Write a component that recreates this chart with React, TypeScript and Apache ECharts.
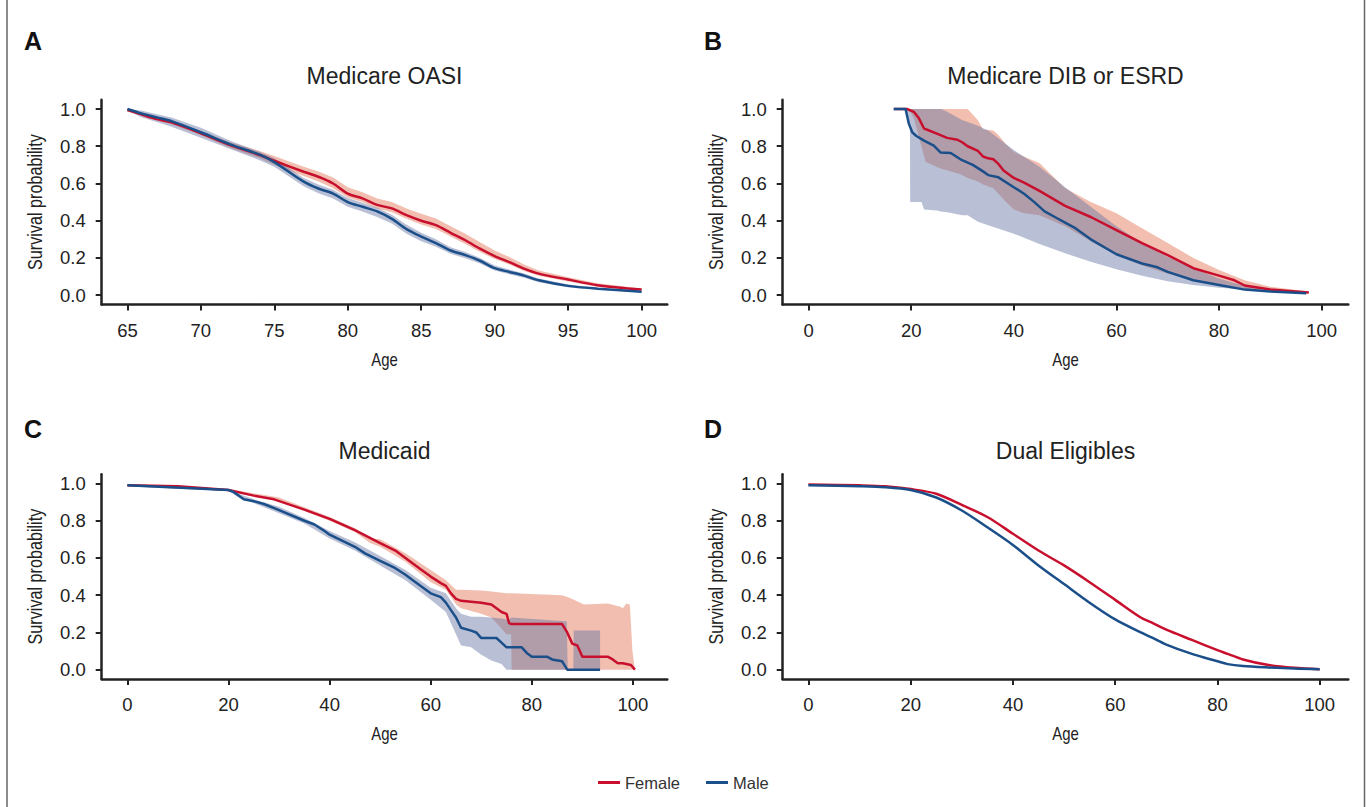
import React, { useEffect, useRef } from 'react';
import * as echarts from 'echarts';

// ---------- colours & fonts ----------
const RED = '#c8102e';
const BLUE = '#1b4f8a';
const RED_FILL = 'rgba(224,110,80,0.45)';
const BLUE_FILL = 'rgba(100,115,165,0.45)';
const SANS = "'Liberation Sans', Arial, Helvetica, sans-serif";
const INK = '#222';

// ---------- tick labels ----------
const yTicks = [0, 0.2, 0.4, 0.6, 0.8, 1.0];
const xTicksA = [65, 70, 75, 80, 85, 90, 95, 100];
const xTicksAll = [0, 20, 40, 60, 80, 100];

// ---------- Panel A: Medicare OASI ----------
const ageA = [65, 66, 67, 68, 70, 72, 74, 75, 77, 78, 79, 80, 81, 82, 83, 84, 85, 86, 87, 88, 89, 90, 91, 92, 93, 95, 97, 100];
const femaleA = [0.995, 0.97, 0.946, 0.928, 0.87, 0.806, 0.753, 0.722, 0.663, 0.636, 0.6, 0.546, 0.52, 0.485, 0.466, 0.43, 0.4, 0.376, 0.335, 0.295, 0.25, 0.21, 0.178, 0.143, 0.116, 0.084, 0.054, 0.03];
const femaleALo = [0.99, 0.962, 0.938, 0.918, 0.86, 0.79, 0.735, 0.7, 0.64, 0.61, 0.575, 0.525, 0.5, 0.465, 0.445, 0.41, 0.38, 0.355, 0.315, 0.275, 0.232, 0.195, 0.165, 0.13, 0.105, 0.074, 0.046, 0.024];
const femaleAHi = [1.0, 0.978, 0.955, 0.938, 0.88, 0.822, 0.775, 0.748, 0.69, 0.664, 0.632, 0.58, 0.553, 0.52, 0.5, 0.466, 0.438, 0.412, 0.37, 0.33, 0.285, 0.24, 0.205, 0.165, 0.133, 0.097, 0.064, 0.036];
const maleA = [1.0, 0.975, 0.955, 0.935, 0.875, 0.81, 0.755, 0.715, 0.61, 0.573, 0.546, 0.5, 0.475, 0.45, 0.41, 0.355, 0.315, 0.28, 0.24, 0.215, 0.185, 0.145, 0.125, 0.105, 0.08, 0.05, 0.035, 0.018];
const maleALo = [0.99, 0.955, 0.93, 0.905, 0.845, 0.785, 0.725, 0.69, 0.585, 0.548, 0.52, 0.475, 0.45, 0.42, 0.385, 0.33, 0.29, 0.26, 0.222, 0.198, 0.17, 0.132, 0.113, 0.094, 0.07, 0.043, 0.03, 0.014];
const maleAHi = [1.0, 0.99, 0.972, 0.955, 0.9, 0.83, 0.77, 0.735, 0.63, 0.595, 0.567, 0.522, 0.497, 0.47, 0.432, 0.378, 0.336, 0.3, 0.258, 0.232, 0.2, 0.16, 0.138, 0.117, 0.09, 0.058, 0.04, 0.022];

// ---------- Panel B: Medicare DIB or ESRD ----------
const ageBF = [16.6, 19.2, 20.5, 21.5, 22.5, 23, 25, 27, 29, 30, 31, 33, 34, 35, 36, 37, 38, 40, 42, 45, 50, 55, 60, 65, 70, 75, 80, 83, 85, 90, 97.5];
const femaleB = [1.0, 1.0, 0.985, 0.95, 0.895, 0.89, 0.868, 0.845, 0.835, 0.82, 0.8, 0.775, 0.745, 0.735, 0.73, 0.705, 0.67, 0.63, 0.605, 0.56, 0.48, 0.42, 0.35, 0.28, 0.215, 0.145, 0.105, 0.08, 0.052, 0.03, 0.015];
const ageBFBand = [19.5, 20.5, 21.5, 22.8, 25.7, 29.6, 31, 33, 34, 36, 37, 38.5, 40, 42, 45, 50, 55, 60, 65, 70, 75, 80, 85, 90, 97.5];
const femaleBLo = [1.0, 0.95, 0.85, 0.715, 0.68, 0.65, 0.63, 0.61, 0.595, 0.575, 0.545, 0.5, 0.46, 0.44, 0.43, 0.37, 0.29, 0.215, 0.16, 0.115, 0.08, 0.06, 0.035, 0.025, 0.01];
const femaleBHi = [1.0, 1.0, 1.0, 1.0, 1.0, 1.0, 1.0, 0.94, 0.89, 0.885, 0.86, 0.81, 0.77, 0.744, 0.71, 0.575, 0.5, 0.44, 0.36, 0.28, 0.2, 0.135, 0.08, 0.045, 0.02];
const ageBM = [16.6, 18.9, 19.55, 20.2, 21, 22.5, 24.4, 25.7, 27.7, 29.6, 32, 34, 35, 37, 40, 42, 44, 46, 48, 50, 52, 55, 60, 65, 68, 70, 75, 80, 85, 90, 97];
const maleB = [1.0, 1.0, 0.92, 0.875, 0.855, 0.83, 0.803, 0.767, 0.764, 0.73, 0.7, 0.665, 0.645, 0.633, 0.58, 0.545, 0.5, 0.45, 0.42, 0.39, 0.36, 0.3, 0.22, 0.17, 0.15, 0.125, 0.08, 0.055, 0.03, 0.02, 0.01];
const ageBMBand = [19, 19.75, 19.8, 22, 22.5, 25, 25.8, 27, 30, 31, 33, 35, 40, 45, 50, 55, 60, 65, 70, 75, 80, 85, 90, 97];
const maleBLo = [1.0, 0.9, 0.5, 0.5, 0.46, 0.455, 0.45, 0.445, 0.43, 0.43, 0.395, 0.375, 0.33, 0.275, 0.225, 0.18, 0.14, 0.105, 0.075, 0.055, 0.04, 0.03, 0.02, 0.005];
const maleBHi = [1.0, 1.0, 1.0, 1.0, 1.0, 1.0, 1.0, 0.985, 0.94, 0.93, 0.91, 0.885, 0.78, 0.69, 0.58, 0.475, 0.37, 0.28, 0.205, 0.145, 0.09, 0.05, 0.03, 0.015];

// ---------- Panel C: Medicaid ----------
const ageCF = [0, 10, 20, 25, 29, 35, 40, 45, 50, 53, 55, 58, 60, 62, 63, 64, 65, 66, 70, 72, 73, 74, 75, 75.5, 76, 86, 87, 88, 89, 90, 95, 96, 97, 98, 99.6, 100.4];
const femaleC = [0.99, 0.985, 0.965, 0.935, 0.915, 0.86, 0.81, 0.75, 0.68, 0.64, 0.6, 0.54, 0.5, 0.465, 0.45, 0.41, 0.38, 0.37, 0.36, 0.35, 0.33, 0.31, 0.3, 0.25, 0.245, 0.245, 0.2, 0.14, 0.13, 0.07, 0.07, 0.055, 0.035, 0.035, 0.025, 0.0];
const ageCFBand = [0, 20, 30, 40, 45, 48, 50, 55, 60, 63, 64, 65, 66, 70, 72, 75, 75.9, 76, 86, 87, 88, 90.3, 95, 97.4, 98, 98.7, 99.4, 99.9, 100.4];
const femaleCLo = [0.985, 0.96, 0.905, 0.8, 0.74, 0.68, 0.66, 0.58, 0.47, 0.43, 0.39, 0.35, 0.33, 0.3, 0.28, 0.19, 0.19, 0, 0, 0, 0, 0, 0, 0, 0, 0, 0, 0, 0];
const femaleCHi = [0.995, 0.97, 0.925, 0.82, 0.76, 0.705, 0.7, 0.625, 0.535, 0.48, 0.455, 0.43, 0.43, 0.425, 0.42, 0.41, 0.41, 0.41, 0.4, 0.39, 0.38, 0.35, 0.355, 0.34, 0.33, 0.355, 0.35, 0.1, 0.0];
const ageCM = [0, 20, 21, 22, 23, 25, 27, 30, 35, 37, 39, 40, 45, 47, 50, 53, 55, 57, 60, 62, 63, 64, 65, 66, 68, 69, 70, 73, 74, 75, 78, 79, 80, 83, 84, 86, 87, 93.5];
const maleC = [0.99, 0.965, 0.955, 0.935, 0.915, 0.905, 0.89, 0.857, 0.8, 0.78, 0.745, 0.725, 0.66, 0.625, 0.585, 0.545, 0.51, 0.47, 0.41, 0.39, 0.36, 0.32, 0.28, 0.225, 0.21, 0.2, 0.17, 0.17, 0.145, 0.12, 0.12, 0.09, 0.07, 0.07, 0.055, 0.045, 0.0, 0.0];
const ageCMBand = [0, 20, 22, 25, 30, 35, 40, 45, 50, 55, 60, 63, 64, 65, 66, 68, 70, 72, 74, 75, 75.5, 76, 86.5, 86.9, 87.1, 88.2, 88.3, 93.5];
const maleCLo = [0.985, 0.96, 0.925, 0.895, 0.84, 0.785, 0.705, 0.64, 0.56, 0.48, 0.375, 0.31, 0.25, 0.19, 0.13, 0.12, 0.08, 0.05, 0.03, 0.0, 0.0, 0.0, 0, 0, 0, 0, 0, 0];
const maleCHi = [0.995, 0.97, 0.945, 0.915, 0.875, 0.815, 0.745, 0.685, 0.61, 0.535, 0.44, 0.41, 0.37, 0.33, 0.3, 0.285, 0.285, 0.28, 0.275, 0.27, 0.27, 0.28, 0.26, 0.26, 0.0, 0.0, 0.21, 0.21];

// ---------- Panel D: Dual Eligibles ----------
const ageD = [0, 10, 15, 20, 25, 30, 35, 40, 45, 50, 55, 60, 65, 67, 70, 75, 80, 82, 85, 90, 95, 100];
const femaleD = [0.995, 0.99, 0.985, 0.97, 0.945, 0.885, 0.82, 0.73, 0.64, 0.56, 0.47, 0.375, 0.28, 0.255, 0.215, 0.16, 0.105, 0.085, 0.055, 0.025, 0.01, 0.003];
const maleD = [0.99, 0.985, 0.98, 0.965, 0.925, 0.855, 0.765, 0.67, 0.56, 0.46, 0.36, 0.27, 0.2, 0.175, 0.135, 0.085, 0.045, 0.03, 0.02, 0.012, 0.006, 0.003];

// ---------- panel texts ----------
const titles = ['Medicare OASI', 'Medicare DIB or ESRD', 'Medicaid', 'Dual Eligibles'];
const letters = ['A', 'B', 'C', 'D'];
const xName = 'Age';
const yName = 'Survival probability';

// ---------- layout ----------
const GL = [101.7, 782.7, 101.7, 782.7];
const GT = [99.7, 99.7, 474.2, 474.2];
const GW = 565.6;
const GH = 204.8;
const XR: [number, number][] = [[63.25, 101.75], [-5.05, 105.2], [-5.09, 106.8], [-5.03, 105.6]];
const XT = [xTicksA, xTicksAll, xTicksAll, xTicksAll];

function band(g: number, name: string, ages: number[], lo: number[], hi: number[], fill: string) {
  return {
    type: 'custom',
    name,
    xAxisIndex: g,
    yAxisIndex: g,
    z: 1,
    silent: true,
    clip: true,
    data: [[ages[0], lo[0]]],
    renderItem: (_p: any, api: any) => {
      const pts: number[][] = [];
      for (let i = 0; i < ages.length; i++) pts.push(api.coord([ages[i], lo[i]]));
      for (let i = ages.length - 1; i >= 0; i--) pts.push(api.coord([ages[i], hi[i]]));
      return { type: 'polygon', shape: { points: pts }, style: { fill, stroke: 'none' } };
    },
  };
}

function line(g: number, name: string, ages: number[], vals: number[], color: string, smooth: number | boolean) {
  return {
    type: 'line',
    name,
    xAxisIndex: g,
    yAxisIndex: g,
    data: ages.map((a, i) => [a, vals[i]]),
    showSymbol: false,
    symbol: 'none',
    smooth,
    clip: true,
    z: 3,
    lineStyle: { color, width: 2.5 },
    itemStyle: { color },
  };
}

function buildOption() {
  const grid = GL.map((l, i) => ({ left: l, top: GT[i], width: GW, height: GH, outerBoundsMode: 'none' }));
  const xAxis = XR.map((r, i) => ({
    type: 'value',
    gridIndex: i,
    min: r[0],
    max: r[1],
    axisLine: { show: true, onZero: false, lineStyle: { color: INK, width: 2.5 } },
    axisTick: { show: true, length: 6, customValues: XT[i], lineStyle: { color: INK, width: 2 } },
    axisLabel: { customValues: XT[i], fontSize: 18.5, color: INK, margin: 16, fontFamily: SANS },
    splitLine: { show: false },
  }));
  const yAxis = GL.map((_l, i) => ({
    type: 'value',
    gridIndex: i,
    min: -0.05,
    max: 1.05,
    axisLine: { show: true, onZero: false, lineStyle: { color: INK, width: 2.5 } },
    axisTick: { show: true, length: 6, customValues: yTicks, lineStyle: { color: INK, width: 2 } },
    axisLabel: {
      customValues: yTicks,
      formatter: (v: number) => v.toFixed(1),
      fontSize: 18.5,
      color: INK,
      margin: 16,
      fontFamily: SANS,
    },
    splitLine: { show: false },
  }));

  const series: any[] = [
    band(0, 'Female CI', ageA, femaleALo, femaleAHi, RED_FILL),
    band(0, 'Male CI', ageA, maleALo, maleAHi, BLUE_FILL),
    line(0, 'Female', ageA, femaleA, RED, 0.3),
    line(0, 'Male', ageA, maleA, BLUE, 0.3),

    band(1, 'Female CI', ageBFBand, femaleBLo, femaleBHi, RED_FILL),
    band(1, 'Male CI', ageBMBand, maleBLo, maleBHi, BLUE_FILL),
    line(1, 'Female', ageBF, femaleB, RED, false),
    line(1, 'Male', ageBM, maleB, BLUE, false),

    band(2, 'Female CI', ageCFBand, femaleCLo, femaleCHi, RED_FILL),
    band(2, 'Male CI', ageCMBand, maleCLo, maleCHi, BLUE_FILL),
    line(2, 'Female', ageCF, femaleC, RED, false),
    line(2, 'Male', ageCM, maleC, BLUE, false),

    line(3, 'Female', ageD, femaleD, RED, 0.3),
    line(3, 'Male', ageD, maleD, BLUE, 0.3),
  ];

  const graphic: any[] = [];
  titles.forEach((t, i) => {
    graphic.push({
      type: 'text',
      x: GL[i] + GW / 2,
      y: GT[i] - 23.4,
      silent: true,
      style: { text: t, font: `23px ${SANS}`, fill: INK, align: 'center', verticalAlign: 'middle' },
    });
    // condensed axis titles
    graphic.push({
      type: 'text',
      x: GL[i] + GW / 2,
      y: GT[i] + 260.3,
      scaleX: 0.83,
      silent: true,
      style: { text: xName, font: `18px ${SANS}`, fill: INK, align: 'center', verticalAlign: 'middle' },
    });
    graphic.push({
      type: 'text',
      x: GL[i] - 66.3,
      y: GT[i] + GH / 2,
      rotation: Math.PI / 2,
      scaleX: 0.83,
      silent: true,
      style: { text: yName, font: `19.5px ${SANS}`, fill: INK, align: 'center', verticalAlign: 'middle' },
    });
  });
  const letterY = [40.5, 40.5, 429, 429];
  const letterX = [24, 704, 24, 704];
  letters.forEach((t, i) => {
    graphic.push({
      type: 'text',
      x: letterX[i],
      y: letterY[i],
      silent: true,
      style: { text: t, font: `bold 25px ${SANS}`, fill: '#111', align: 'left', verticalAlign: 'middle' },
    });
  });
  graphic.push({ type: 'line', silent: true, shape: { x1: 7, y1: 0, x2: 7, y2: 807 }, style: { stroke: '#666', lineWidth: 1.5 } });
  graphic.push({ type: 'line', silent: true, shape: { x1: 1364.5, y1: 0, x2: 1364.5, y2: 807 }, style: { stroke: '#666', lineWidth: 1.5 } });

  return {
    animation: false,
    backgroundColor: '#fff',
    grid,
    xAxis,
    yAxis,
    series,
    graphic,
    legend: {
      data: ['Female', 'Male'],
      left: 593,
      top: 769,
      icon: 'rect',
      itemWidth: 22,
      itemHeight: 3,
      itemGap: 26,
      selectedMode: false,
      textStyle: { fontSize: 16.5, color: '#333', fontFamily: SANS },
    },
  };
}

export default function App() {
  const ref = useRef<HTMLDivElement>(null);
  useEffect(() => {
    document.body.style.margin = '0';
    const chart = echarts.init(ref.current as HTMLDivElement, null, { renderer: 'svg', width: 1371, height: 807 });
    chart.setOption(buildOption() as any);
    return () => chart.dispose();
  }, []);
  return <div ref={ref} style={{ position: 'absolute', left: 0, top: 0, width: 1371, height: 807, background: '#fff' }} />;
}
